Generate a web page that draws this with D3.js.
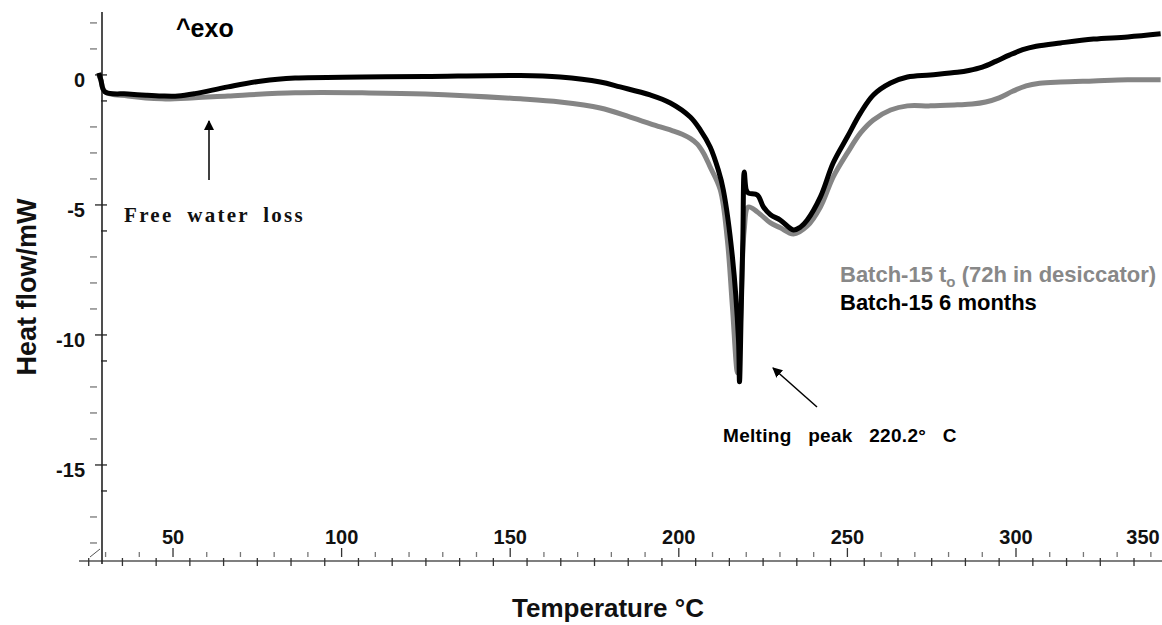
<!DOCTYPE html>
<html><head><meta charset="utf-8">
<script src="https://cdn.jsdelivr.net/npm/d3@7"></script>
<style>body{margin:0;background:#fff}svg{display:block}</style>
</head><body>
<svg id="c" width="1162" height="625"></svg>
<script>
// ---- data ----
const tempGray = [28.0, 28.6, 29.8, 36.6, 46.7, 56.5, 66.3, 86.2, 106.1, 124.8, 153.0, 164.8, 176.7, 185.6, 194.5, 198.0, 201.0, 203.5, 205.5, 207.3, 209.3, 212.3, 214.4, 215.9, 217.4, 218.2, 219.4, 220.6, 223.3, 227.2, 230.1, 234.0, 238.1, 242.0, 245.8, 250.0, 253.9, 257.7, 262.8, 267.8, 274.6, 282.6, 287.0, 291.0, 295.0, 299.0, 303.0, 307.0, 313.2, 323.0, 333.1, 342.9];
const heatGray = [0, -0.2, -0.65, -0.81, -0.92, -0.88, -0.81, -0.69, -0.69, -0.73, -0.92, -1.04, -1.27, -1.62, -2.0, -2.14, -2.28, -2.45, -2.66, -3.0, -3.54, -4.42, -6.35, -8.92, -11.46, -9.8, -5.96, -5.08, -5.27, -5.69, -5.88, -6.12, -5.81, -5.08, -3.92, -3.0, -2.23, -1.73, -1.35, -1.19, -1.19, -1.15, -1.12, -1.04, -0.88, -0.63, -0.42, -0.32, -0.27, -0.23, -0.19, -0.19];
const tempBlack = [28.0, 28.6, 29.8, 36.6, 42.0, 46.7, 51.5, 56.5, 66.3, 76.4, 86.2, 106.1, 124.8, 153.0, 164.8, 176.7, 182.6, 191.5, 197.5, 203.4, 206.4, 209.3, 211.7, 213.2, 215.9, 217.7, 218.0, 218.5, 219.0, 219.4, 220.0, 220.6, 223.3, 225.1, 227.2, 230.1, 234.0, 236.1, 238.1, 242.0, 245.8, 250.0, 253.9, 257.7, 262.8, 267.8, 274.6, 282.6, 286.0, 290.0, 294.0, 298.0, 302.0, 306.0, 313.2, 323.0, 333.1, 342.9];
const heatBlack = [0.08, -0.19, -0.65, -0.73, -0.78, -0.81, -0.81, -0.72, -0.46, -0.23, -0.12, -0.08, -0.06, -0.02, -0.08, -0.27, -0.46, -0.77, -1.08, -1.62, -2.12, -2.77, -3.65, -4.42, -7.0, -10.19, -11.8, -9.1, -6.3, -3.73, -4.42, -4.54, -4.62, -5.08, -5.38, -5.58, -5.96, -5.85, -5.58, -4.69, -3.38, -2.38, -1.46, -0.77, -0.31, -0.08, 0.0, 0.1, 0.17, 0.3, 0.52, 0.76, 0.97, 1.1, 1.23, 1.38, 1.46, 1.58];
const xTickLabels = [50, 100, 150, 200, 250, 300, 350];
const yTickLabels = [0, -5, -10, -15];
const seriesNames = ["Batch-15 t", "Batch-15 6 months"];

// ---- layout ----
const svg = d3.select("#c");
const x = d3.scaleLinear().domain([28.94, 343.3]).range([102, 1162]);
const y = d3.scaleLinear().domain([2.42, -18.77]).range([12, 563]);
const axisY = 561, axisX = 102;
const axisCol = "#555";
const sans = "'Liberation Sans', Arial, sans-serif";
const serif = "'Liberation Serif', 'Times New Roman', serif";

const g = svg.append("g");

// x axis line
g.append("line").attr("x1", 79).attr("x2", 1162).attr("y1", axisY).attr("y2", axisY)
  .attr("stroke", axisCol).attr("stroke-width", 1.6);
// y axis line
g.append("line").attr("x1", axisX).attr("x2", axisX).attr("y1", 12).attr("y2", 564)
  .attr("stroke", "#222").attr("stroke-width", 1.6);
// axis break mark
g.append("line").attr("x1", 90).attr("y1", 557).attr("x2", 100).attr("y2", 549)
  .attr("stroke", axisCol).attr("stroke-width", 1);

// x ticks above (every 10)
d3.range(30, 344, 10).forEach(t => {
  const major = t % 50 === 0;
  g.append("line").attr("x1", x(t)).attr("x2", x(t))
    .attr("y1", major ? 548 : 552).attr("y2", 557)
    .attr("stroke", major ? "#333" : "#777").attr("stroke-width", 1.3);
});
// x ticks crossing (every 10, offset 5)
d3.range(25, 344, 10).forEach(t => {
  g.append("line").attr("x1", x(t)).attr("x2", x(t))
    .attr("y1", 558).attr("y2", 566).attr("stroke", "#333").attr("stroke-width", 1.3);
});
// x labels
xTickLabels.forEach(t => {
  g.append("text").attr("x", Math.min(x(t), 1143)).attr("y", 544)
    .attr("text-anchor", "middle").attr("font-family", sans).attr("font-weight", "bold")
    .attr("font-size", 20).attr("fill", "#111").text(t);
});

// y ticks
d3.range(-18, 3, 1).forEach(v => {
  const yy = y(v);
  if (v % 5 === 0) {
    g.append("line").attr("x1", 95).attr("x2", 107).attr("y1", yy).attr("y2", yy)
      .attr("stroke", "#222").attr("stroke-width", 1.3);
  } else if (((v % 5) + 5) % 5 === 4) {
    g.append("line").attr("x1", 101).attr("x2", 107).attr("y1", yy).attr("y2", yy)
      .attr("stroke", "#222").attr("stroke-width", 1.3);
  } else {
    g.append("line").attr("x1", 90).attr("x2", 97).attr("y1", yy).attr("y2", yy)
      .attr("stroke", "#777").attr("stroke-width", 1.3);
  }
});
yTickLabels.forEach(v => {
  g.append("text").attr("x", 85).attr("y", y(v) + 12)
    .attr("text-anchor", "end").attr("font-family", sans).attr("font-weight", "bold")
    .attr("font-size", 20).attr("fill", "#111").text(v);
});

// axis titles
g.append("text").attr("x", 608).attr("y", 617).attr("text-anchor", "middle")
  .attr("font-family", sans).attr("font-weight", "bold").attr("font-size", 26)
  .attr("fill", "#111").text("Temperature °C");
g.append("text").attr("transform", "translate(36,287) rotate(-90)").attr("text-anchor", "middle")
  .attr("font-family", sans).attr("font-weight", "bold").attr("font-size", 27)
  .attr("fill", "#111").text("Heat flow/mW");

// curves
const line = d3.line().x(d => x(d[0])).y(d => y(d[1])).curve(d3.curveCatmullRom.alpha(0.5));
const grayData = tempGray.map((t, i) => [t, heatGray[i]]);
const blackData = tempBlack.map((t, i) => [t, heatBlack[i]]);
g.append("path").attr("d", line(grayData)).attr("fill", "none")
  .attr("stroke", "#858585").attr("stroke-width", 5).attr("stroke-linejoin", "round");
g.append("path").attr("d", line(blackData)).attr("fill", "none")
  .attr("stroke", "#000").attr("stroke-width", 5).attr("stroke-linejoin", "round");

// annotations
g.append("text").attr("x", 176).attr("y", 37).attr("font-family", sans).attr("font-weight", "bold")
  .attr("font-size", 25).attr("fill", "#000").text("^exo");

svg.append("defs").append("marker").attr("id", "ah").attr("viewBox", "0 0 10 10")
  .attr("refX", 9).attr("refY", 5).attr("markerWidth", 10).attr("markerHeight", 10)
  .attr("markerUnits", "userSpaceOnUse").attr("orient", "auto")
  .append("path").attr("d", "M0,0 L10,5 L0,10 Z").attr("fill", "#000");

g.append("line").attr("x1", 209).attr("y1", 180).attr("x2", 209).attr("y2", 121)
  .attr("stroke", "#000").attr("stroke-width", 1.5).attr("marker-end", "url(#ah)");
g.append("text").attr("x", 124).attr("y", 222).attr("font-family", serif).attr("font-weight", "bold")
  .attr("font-size", 21).attr("letter-spacing", 2.3).attr("word-spacing", 6)
  .attr("fill", "#111").text("Free water loss");

g.append("line").attr("x1", 817).attr("y1", 407).attr("x2", 773).attr("y2", 368)
  .attr("stroke", "#000").attr("stroke-width", 1.5).attr("marker-end", "url(#ah)");
g.append("text").attr("x", 723).attr("y", 442).attr("font-family", sans).attr("font-weight", "bold")
  .attr("font-size", 19).attr("letter-spacing", 0.3).attr("word-spacing", 11).attr("fill", "#000")
  .text("Melting peak 220.2° C");

// legend text
const lg = g.append("text").attr("x", 840).attr("y", 282).attr("font-family", sans)
  .attr("font-weight", "bold").attr("font-size", 22).attr("fill", "#888");
lg.append("tspan").text(seriesNames[0]);
lg.append("tspan").attr("dy", 5).attr("font-size", 15).text("o");
lg.append("tspan").attr("dy", -5).text(" (72h in desiccator)");
g.append("text").attr("x", 840).attr("y", 310).attr("font-family", sans)
  .attr("font-weight", "bold").attr("font-size", 22).attr("fill", "#000").text(seriesNames[1]);
</script>
</body></html>
